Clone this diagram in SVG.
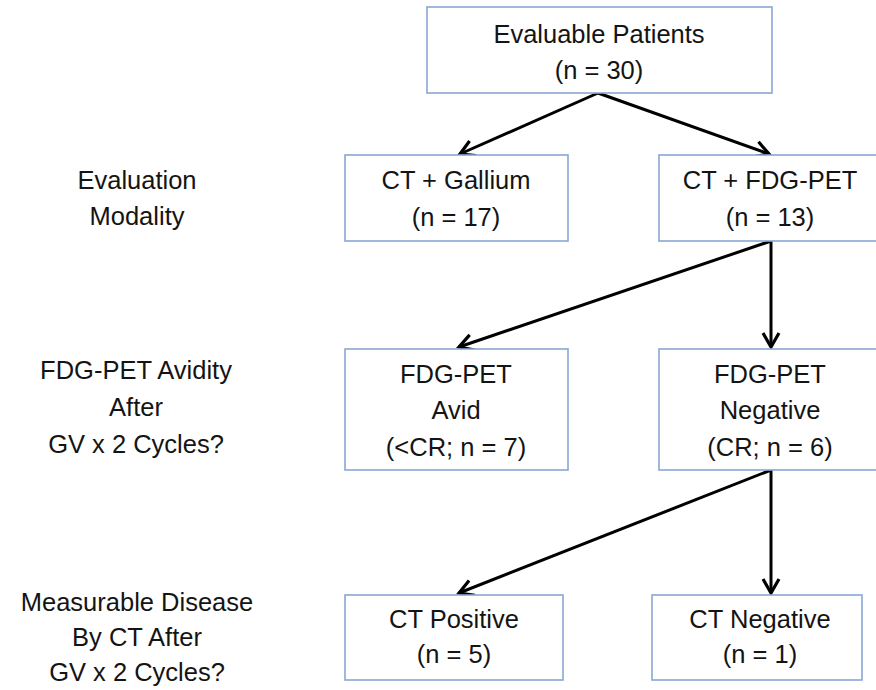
<svg xmlns="http://www.w3.org/2000/svg" width="876" height="690" viewBox="0 0 876 690">
<style>
.box{fill:#fff;stroke:#8aa7d6;stroke-width:1.6}
.t{font-family:"Liberation Sans",Arial,sans-serif;font-size:25.5px;fill:#141414;text-anchor:middle}
.c{stroke:#000;stroke-width:3;fill:none;marker-end:url(#ah)}
</style>
<defs>
<marker id="ah" markerUnits="userSpaceOnUse" markerWidth="30" markerHeight="30" refX="0" refY="0" viewBox="-15 -15 30 30" orient="auto">
<path d="M-14,-8 L0,0 L-14,8" fill="none" stroke="#000" stroke-width="3.2"/>
</marker>
</defs>
<rect width="876" height="690" fill="#fff"/>
<g id="connectors">
<line class="c" x1="598" y1="93" x2="460" y2="154"/>
<line class="c" x1="598" y1="93" x2="769" y2="154"/>
<line class="c" x1="771" y1="241" x2="459" y2="347"/>
<line class="c" x1="771" y1="241" x2="771" y2="347"/>
<line class="c" x1="771" y1="470" x2="459" y2="593"/>
<line class="c" x1="771" y1="470" x2="771" y2="593"/>
</g>
<g id="label-modality">
<text class="t" x="137" y="189">Evaluation</text>
<text class="t" x="137" y="225">Modality</text>
</g>
<g id="label-avidity">
<text class="t" x="136" y="379">FDG-PET Avidity</text>
<text class="t" x="136" y="416">After</text>
<text class="t" x="136" y="453">GV x 2 Cycles?</text>
</g>
<g id="label-measurable">
<text class="t" x="137" y="611">Measurable Disease</text>
<text class="t" x="137" y="646">By CT After</text>
<text class="t" x="137" y="681">GV x 2 Cycles?</text>
</g>
<g id="n-evaluable">
<rect class="box" x="427" y="7" width="345" height="86"/>
<text class="t" x="599" y="43">Evaluable Patients</text>
<text class="t" x="599" y="79">(n = 30)</text>
</g>
<g id="n-gallium">
<rect class="box" x="345" y="155" width="223" height="86"/>
<text class="t" x="456" y="189">CT + Gallium</text>
<text class="t" x="456" y="226">(n = 17)</text>
</g>
<g id="n-fdgpet">
<rect class="box" x="659" y="155" width="223" height="86"/>
<text class="t" x="770" y="189">CT + FDG-PET</text>
<text class="t" x="770" y="226">(n = 13)</text>
</g>
<g id="n-avid">
<rect class="box" x="345" y="349" width="223" height="121"/>
<text class="t" x="456" y="383">FDG-PET</text>
<text class="t" x="456" y="419">Avid</text>
<text class="t" x="456" y="456">(&lt;CR; n = 7)</text>
</g>
<g id="n-negative">
<rect class="box" x="659" y="349" width="223" height="121"/>
<text class="t" x="770" y="383">FDG-PET</text>
<text class="t" x="770" y="419">Negative</text>
<text class="t" x="770" y="456">(CR; n = 6)</text>
</g>
<g id="n-ctpos">
<rect class="box" x="345" y="595" width="218" height="85"/>
<text class="t" x="454" y="628">CT Positive</text>
<text class="t" x="454" y="663">(n = 5)</text>
</g>
<g id="n-ctneg">
<rect class="box" x="652" y="595" width="210" height="85"/>
<text class="t" x="760" y="628">CT Negative</text>
<text class="t" x="760" y="663">(n = 1)</text>
</g>
</svg>
